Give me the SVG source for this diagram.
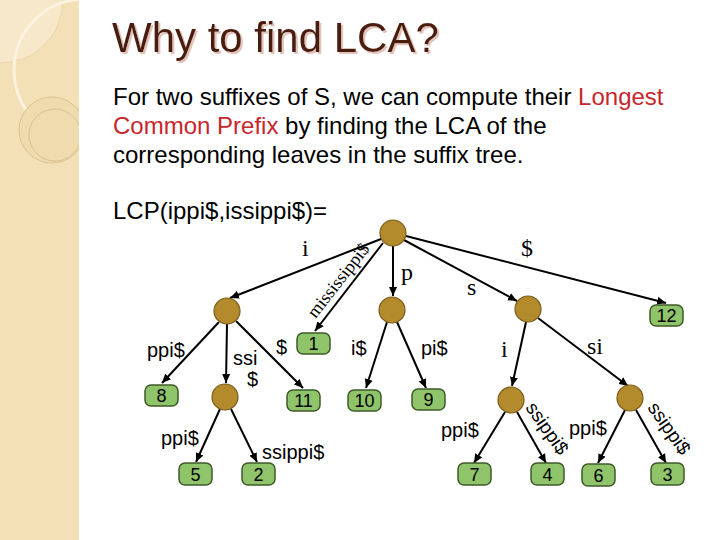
<svg xmlns="http://www.w3.org/2000/svg" width="720" height="540" viewBox="0 0 720 540">
<defs>
<style>
.sans{font-family:"Liberation Sans",Arial,sans-serif;fill:#000}
.serif{font-family:"Liberation Serif","Times New Roman",serif;fill:#000}
.lbl{font-size:20px}
.slbl{font-size:24px}
.inner{fill:#B38B2D;stroke:#7A5C18;stroke-width:1.2}
.leaf rect{fill:#8FC46A;stroke:#3E5A28;stroke-width:1.5}
.leaf text{font-family:"Liberation Sans",Arial,sans-serif;font-size:18px;text-anchor:middle;fill:#000}
.edge{stroke:#000;stroke-width:2;fill:none;marker-end:url(#arr)}
.red{fill:#C8262B}
</style>
<filter id="shadow" x="-5%" y="-20%" width="110%" height="140%">
<feDropShadow dx="2" dy="2" stdDeviation="0.6" flood-color="#E3C2BA" flood-opacity="1"/>
</filter>
<marker id="arr" viewBox="0 0 10 10" refX="10" refY="5" markerWidth="9" markerHeight="9" markerUnits="userSpaceOnUse" orient="auto">
<path d="M0,0.5 L10,5 L0,9.5 z" fill="#000"/>
</marker>
<clipPath id="strip"><rect x="0" y="0" width="79" height="540"/></clipPath>
</defs>
<rect x="0" y="0" width="720" height="540" fill="#fff"/>
<g id="sidebar" clip-path="url(#strip)">
<rect x="0" y="0" width="79" height="540" fill="#F3E0B6"/>
<circle cx="0" cy="0" r="63" fill="#F6E8C8" stroke="#E8D6AE" stroke-width="1"/>
<circle cx="85" cy="70" r="71" fill="none" stroke="#FBF3E0" stroke-width="3"/>
<circle cx="52" cy="130" r="33" fill="#EFDBAE" stroke="#D9C292" stroke-width="1"/>
<circle cx="55" cy="135" r="26" fill="none" stroke="#D9C292" stroke-width="1"/>
</g>
<g id="title">
<text x="112" y="52" font-family="Liberation Sans, Arial, sans-serif" font-size="42" fill="#4A1C0E" filter="url(#shadow)">Why to find LCA?</text>
</g>
<g id="body" class="sans" font-size="24">
<text x="113" y="105">For two suffixes of S, we can compute their <tspan class="red">Longest</tspan></text>
<text x="113" y="134"><tspan class="red">Common Prefix</tspan> by finding the LCA of the</text>
<text x="113" y="163">corresponding leaves in the suffix tree.</text>
<text x="113" y="219">LCP(ippi$,issippi$)=</text>
</g>
<g id="connectors">
<line class="edge" x1="381" y1="239" x2="230" y2="298"/>
<line class="edge" x1="383" y1="243" x2="315" y2="331"/>
<line class="edge" x1="393" y1="246" x2="393" y2="296"/>
<line class="edge" x1="404" y1="240" x2="517" y2="301"/>
<line class="edge" x1="406" y1="236" x2="666" y2="303"/>
<line class="edge" x1="219" y1="322" x2="162" y2="383"/>
<line class="edge" x1="227" y1="324" x2="226" y2="383"/>
<line class="edge" x1="236" y1="321" x2="303" y2="388"/>
<line class="edge" x1="387" y1="322" x2="366" y2="388"/>
<line class="edge" x1="397" y1="322" x2="426" y2="388"/>
<line class="edge" x1="526" y1="322" x2="512" y2="386"/>
<line class="edge" x1="538" y1="318" x2="628" y2="386"/>
<line class="edge" x1="220" y1="409" x2="196" y2="462"/>
<line class="edge" x1="231" y1="409" x2="257" y2="462"/>
<line class="edge" x1="505" y1="412" x2="474" y2="463"/>
<line class="edge" x1="517" y1="412" x2="546" y2="463"/>
<line class="edge" x1="625" y1="410" x2="598" y2="463"/>
<line class="edge" x1="636" y1="410" x2="666" y2="463"/>
</g>
<g id="edge-labels">
<text class="serif slbl" x="302" y="256">i</text>
<text class="serif" font-size="18" text-anchor="middle" transform="translate(343,284) rotate(-52)">mississippi$</text>
<text class="serif slbl" x="401" y="280">p</text>
<text class="serif slbl" x="467" y="295">s</text>
<text class="serif slbl" x="521" y="256">$</text>
<text class="sans lbl" x="147" y="357">ppi$</text>
<text class="sans lbl" x="233" y="365">ssi</text>
<text class="sans lbl" x="247" y="386">$</text>
<text class="sans lbl" x="276" y="354">$</text>
<text class="sans lbl" x="351" y="355">i$</text>
<text class="sans lbl" x="421" y="355">pi$</text>
<text class="serif slbl" x="501" y="357">i</text>
<text class="serif slbl" x="587" y="354">si</text>
<text class="sans lbl" x="161" y="445">ppi$</text>
<text class="sans lbl" x="262" y="459">ssippi$</text>
<text class="sans lbl" x="441" y="437">ppi$</text>
<text class="sans lbl" x="569" y="435">ppi$</text>
<text class="sans" font-size="19" text-anchor="middle" transform="translate(542,432) rotate(55)">ssippi$</text>
<text class="sans" font-size="19" text-anchor="middle" transform="translate(664,432) rotate(55)">ssippi$</text>
</g>
<g id="nodes">
<g id="root"><circle class="inner" cx="393" cy="233" r="13"/></g>
<g id="n-i"><circle class="inner" cx="227" cy="311" r="13"/></g>
<g id="n-p"><circle class="inner" cx="392" cy="310" r="13"/></g>
<g id="n-s"><circle class="inner" cx="528" cy="309" r="13"/></g>
<g id="n-ssi"><circle class="inner" cx="225" cy="397" r="13"/></g>
<g id="n-si-i"><circle class="inner" cx="511" cy="400" r="13"/></g>
<g id="n-si"><circle class="inner" cx="630" cy="398" r="13"/></g>
<g id="leaf12" class="leaf"><rect x="650" y="305" width="33" height="21" rx="6"/><text x="666.5" y="322">12</text></g>
<g id="leaf1" class="leaf"><rect x="297" y="333" width="33" height="21" rx="6"/><text x="313.5" y="350">1</text></g>
<g id="leaf8" class="leaf"><rect x="145" y="385" width="33" height="21" rx="6"/><text x="161.5" y="402">8</text></g>
<g id="leaf11" class="leaf"><rect x="287" y="390" width="33" height="21" rx="6"/><text x="303.5" y="407">11</text></g>
<g id="leaf10" class="leaf"><rect x="348" y="390" width="33" height="21" rx="6"/><text x="364.5" y="407">10</text></g>
<g id="leaf9" class="leaf"><rect x="412" y="389" width="33" height="21" rx="6"/><text x="428.5" y="406">9</text></g>
<g id="leaf5" class="leaf"><rect x="179" y="463" width="33" height="22" rx="6"/><text x="195.5" y="481">5</text></g>
<g id="leaf2" class="leaf"><rect x="242" y="463" width="33" height="22" rx="6"/><text x="258.5" y="481">2</text></g>
<g id="leaf7" class="leaf"><rect x="458" y="463" width="33" height="22" rx="6"/><text x="474.5" y="481">7</text></g>
<g id="leaf4" class="leaf"><rect x="531" y="463" width="33" height="22" rx="6"/><text x="547.5" y="481">4</text></g>
<g id="leaf6" class="leaf"><rect x="582" y="464" width="33" height="22" rx="6"/><text x="598.5" y="482">6</text></g>
<g id="leaf3" class="leaf"><rect x="651" y="463" width="33" height="22" rx="6"/><text x="667.5" y="481">3</text></g>
</g>
</svg>
